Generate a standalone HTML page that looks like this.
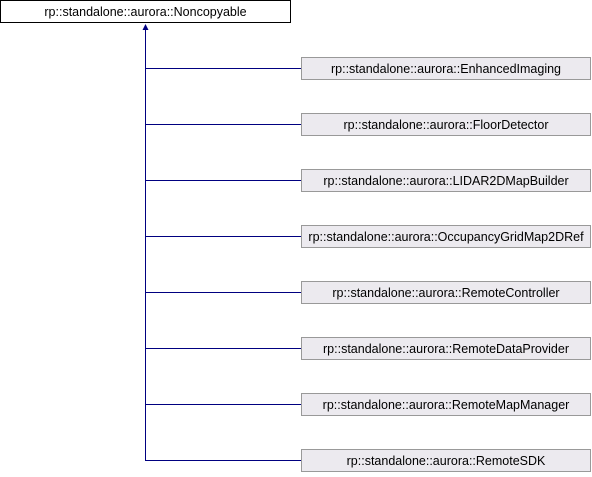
<!DOCTYPE html>
<html><head><style>
body{margin:0;background:#fff;width:592px;height:472px;overflow:hidden}
</style></head><body>
<svg width="592" height="472" xmlns="http://www.w3.org/2000/svg" font-family="Liberation Sans, sans-serif" font-size="12.5">
<rect x="0.5" y="0.5" width="290" height="22" fill="#fff" stroke="#000"/>
<text x="145.5" y="16">rp::standalone::aurora::Noncopyable</text>
<line x1="145.5" y1="29" x2="145.5" y2="460.5" stroke="#000080" stroke-width="1"/>
<polygon points="145.5,24 142.5,30 148.5,30" fill="#000080"/>
<g stroke="#000080">
<line x1="145" y1="68.5" x2="301" y2="68.5"/>
<line x1="145" y1="124.5" x2="301" y2="124.5"/>
<line x1="145" y1="180.5" x2="301" y2="180.5"/>
<line x1="145" y1="236.5" x2="301" y2="236.5"/>
<line x1="145" y1="292.5" x2="301" y2="292.5"/>
<line x1="145" y1="348.5" x2="301" y2="348.5"/>
<line x1="145" y1="404.5" x2="301" y2="404.5"/>
<line x1="145" y1="460.5" x2="301" y2="460.5"/>
</g>
<g fill="#eceaef" stroke="#999999">
<rect x="301.5" y="57.5" width="289" height="22"/>
<rect x="301.5" y="113.5" width="289" height="22"/>
<rect x="301.5" y="169.5" width="289" height="22"/>
<rect x="301.5" y="225.5" width="289" height="22"/>
<rect x="301.5" y="281.5" width="289" height="22"/>
<rect x="301.5" y="337.5" width="289" height="22"/>
<rect x="301.5" y="393.5" width="289" height="22"/>
<rect x="301.5" y="449.5" width="289" height="22"/>
</g>
<g text-anchor="middle" fill="#000">
<text x="446" y="73">rp::standalone::aurora::EnhancedImaging</text>
<text x="446" y="129">rp::standalone::aurora::FloorDetector</text>
<text x="446" y="185">rp::standalone::aurora::LIDAR2DMapBuilder</text>
<text x="446" y="241">rp::standalone::aurora::OccupancyGridMap2DRef</text>
<text x="446" y="297">rp::standalone::aurora::RemoteController</text>
<text x="446" y="353">rp::standalone::aurora::RemoteDataProvider</text>
<text x="446" y="409">rp::standalone::aurora::RemoteMapManager</text>
<text x="446" y="465">rp::standalone::aurora::RemoteSDK</text>
</g>
<style>text{text-anchor:middle}</style>
</svg>
</body></html>
